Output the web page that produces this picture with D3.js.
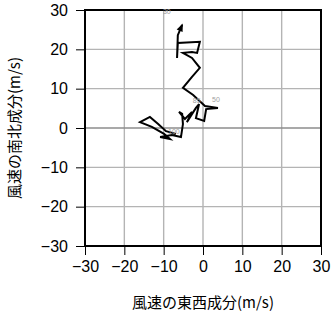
<!DOCTYPE html>
<html>
<head>
<meta charset="utf-8">
<script src="https://cdn.jsdelivr.net/npm/d3@7"></script>
<style>
	body { margin: 0; background: #fff; }
	svg { display: block; }
</style>
</head>
<body>
<div id="chart"></div>
<script>
// wind components (m/s) along the hodograph, bottom to top
const uWind = [-6.9, -9.4, -11.4, -13.5, -16.0, -13.0, -9.9, -8.4, -10.9, -7.9, -5.6, -5.1, -5.3, -6.1, -4.6, -2.8, -4.1, -1.8, -1.0, -1.8, 0.3, 0.8, 3.8, 0.5, -2.5, -5.1, -2.8, -0.8, -2.8, -5.1, -2.8, -1.5, -0.8, -6.4, -6.6, -6.4, -5.3];
const vWind = [-1.5, -0.8, 1.0, 2.8, 1.5, 0.3, -1.5, -2.8, -2.3, -1.8, -2.3, 1.0, 3.6, 4.1, 2.3, 4.1, 1.5, 5.1, 6.1, 2.5, 1.8, 4.8, 5.1, 5.6, 8.4, 10.2, 13.0, 15.3, 17.8, 19.1, 19.3, 19.1, 21.9, 21.6, 17.8, 23.6, 26.2];

// level labels
const levelText = ['100', '85', '50', '30'];
const levelU = [-8.9, -2.6, 2.3, -10.2];
const levelV = [-1.4, 6.4, 6.6, 28.9];

const tickValues = [-30, -20, -10, 0, 10, 20, 30];
const xTitle = '風速の東西成分(m/s)';
const yTitle = '風速の南北成分(m/s)';

const width = 331, height = 318;
const margin = { top: 10, right: 10, bottom: 72, left: 85 };
const w = width - margin.left - margin.right;
const h = height - margin.top - margin.bottom;

const svg = d3.select('#chart').append('svg')
	.attr('width', width)
	.attr('height', height);

const chart = svg.append('g')
	.attr('transform', `translate(${margin.left}, ${margin.top})`);

const xScale = d3.scaleLinear().domain([-30, 30]).range([0, w]);
const yScale = d3.scaleLinear().domain([-30, 30]).range([h, 0]);

const fmt = d => d < 0 ? '\u2212' + Math.abs(d) : String(d);

// grid
chart.append('g').selectAll('line')
	.data(tickValues.slice(1, -1))
	.join('line')
	.attr('x1', d => xScale(d)).attr('x2', d => xScale(d))
	.attr('y1', 0).attr('y2', h)
	.attr('stroke', '#b4b4b4').attr('stroke-width', 1.4);

chart.append('g').selectAll('line')
	.data(tickValues.slice(1, -1))
	.join('line')
	.attr('y1', d => yScale(d)).attr('y2', d => yScale(d))
	.attr('x1', 0).attr('x2', w)
	.attr('stroke', d => d === 0 ? '#8c8c8c' : '#b4b4b4').attr('stroke-width', 1.4);

// axes
const xAxis = d3.axisBottom(xScale).tickValues(tickValues).tickFormat(fmt).tickSize(9).tickPadding(6);
const yAxis = d3.axisLeft(yScale).tickValues(tickValues).tickFormat(fmt).tickSize(9).tickPadding(8);

const xg = chart.append('g').attr('transform', `translate(0, ${h})`).call(xAxis);
const yg = chart.append('g').call(yAxis);
[xg, yg].forEach(g => {
	g.attr('font-size', 16).attr('font-family', 'Liberation Sans, Arial, sans-serif');
	g.select('.domain').remove();
	g.selectAll('.tick line').attr('stroke', '#000').attr('stroke-width', 1);
});

// frame
chart.append('rect')
	.attr('width', w).attr('height', h)
	.attr('fill', 'none').attr('stroke', '#000').attr('stroke-width', 2);

// arrow marker
svg.append('defs').append('marker')
	.attr('id', 'arrow')
	.attr('viewBox', '0 0 10 10')
	.attr('refX', 8).attr('refY', 5)
	.attr('markerWidth', 5).attr('markerHeight', 4)
	.attr('orient', 'auto')
	.append('path')
	.attr('d', 'M0,1 L10,5 L0,9 Z')
	.attr('fill', '#000');

const pts = uWind.map((u, i) => [u, vWind[i]]);
const line = d3.line().x(d => xScale(d[0])).y(d => yScale(d[1]));

chart.append('path')
	.datum(pts)
	.attr('d', line)
	.attr('fill', 'none')
	.attr('stroke', '#000')
	.attr('stroke-width', 2)
	.attr('marker-end', 'url(#arrow)');

// level labels
chart.append('g').selectAll('text')
	.data(levelText)
	.join('text')
	.attr('x', (d, i) => xScale(levelU[i]))
	.attr('y', (d, i) => yScale(levelV[i]))
	.attr('font-family', 'Liberation Sans, Arial, sans-serif')
	.attr('font-size', 7)
	.attr('fill', '#a0a0a0')
	.text(d => d);

// axis titles
svg.append('text')
	.attr('x', margin.left + w / 2)
	.attr('y', 308)
	.attr('text-anchor', 'middle')
	.attr('font-family', 'Noto Sans CJK JP, sans-serif')
	.attr('font-size', 15)
	.text(xTitle);

svg.append('text')
	.attr('transform', `translate(20, ${margin.top + h / 2}) rotate(-90)`)
	.attr('text-anchor', 'middle')
	.attr('font-family', 'Noto Sans CJK JP, sans-serif')
	.attr('font-size', 15)
	.text(yTitle);
</script>
</body>
</html>
